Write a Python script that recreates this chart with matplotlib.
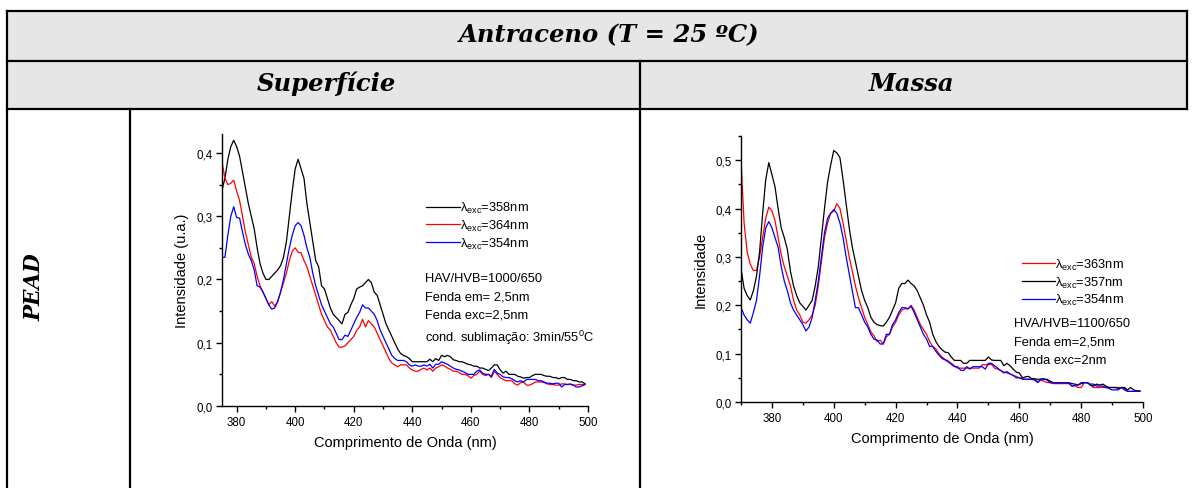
import numpy as np
import matplotlib
matplotlib.use("Agg")
import matplotlib.pyplot as plt
from matplotlib.lines import Line2D
from matplotlib.patches import Rectangle
from matplotlib.ticker import MultipleLocator, FuncFormatter

plt.rcParams["font.family"] = ["Liberation Sans", "DejaVu Sans"]
plt.rcParams["mathtext.fontset"] = "custom"
plt.rcParams["mathtext.rm"] = "Liberation Sans"
plt.rcParams["mathtext.it"] = "Liberation Sans:italic"

# -----------------------------
# Data: Superficie (left panel), 375-499 nm, 1 nm step
# -----------------------------
wl_sup = np.arange(375, 500)

sup_358 = [
    0.341, 0.36, 0.39, 0.41, 0.42, 0.41, 0.395, 0.37, 0.345, 0.32,
    0.30, 0.28, 0.25, 0.225, 0.21, 0.20, 0.20, 0.205, 0.21, 0.215,
    0.222, 0.235, 0.26, 0.30, 0.34, 0.375, 0.39, 0.375, 0.36, 0.32,
    0.29, 0.26, 0.23, 0.22, 0.19, 0.185, 0.17, 0.155, 0.145, 0.14,
    0.135, 0.13, 0.145, 0.148, 0.16, 0.17, 0.185, 0.188, 0.19, 0.195,
    0.20, 0.195, 0.18, 0.175, 0.16, 0.145, 0.13, 0.12, 0.11, 0.10,
    0.09, 0.083, 0.08, 0.078, 0.075, 0.07, 0.07, 0.07, 0.07, 0.07,
    0.07, 0.074, 0.07, 0.075, 0.072, 0.08, 0.078, 0.08, 0.078, 0.073,
    0.072, 0.07, 0.07, 0.068, 0.066, 0.065, 0.063, 0.063, 0.06, 0.06,
    0.058, 0.056, 0.06, 0.065, 0.065, 0.057, 0.052, 0.055, 0.05, 0.05,
    0.05, 0.047, 0.046, 0.044, 0.045, 0.045, 0.048, 0.05, 0.05, 0.05,
    0.048, 0.047, 0.047, 0.045, 0.045, 0.043, 0.045, 0.045, 0.042, 0.042,
    0.04, 0.04, 0.038, 0.038, 0.035,
]
sup_364 = [
    0.386, 0.36, 0.35, 0.352, 0.357, 0.34, 0.325, 0.30, 0.275, 0.255,
    0.235, 0.225, 0.205, 0.19, 0.18, 0.17, 0.16, 0.165, 0.158, 0.165,
    0.18, 0.195, 0.21, 0.23, 0.245, 0.25, 0.243, 0.242, 0.23, 0.22,
    0.205, 0.19, 0.175, 0.16, 0.145, 0.135, 0.125, 0.12, 0.11, 0.10,
    0.093, 0.093, 0.095, 0.10, 0.105, 0.11, 0.12, 0.125, 0.137, 0.125,
    0.135, 0.13, 0.125, 0.115, 0.105, 0.095, 0.085, 0.075, 0.068, 0.065,
    0.062, 0.065, 0.065, 0.065, 0.06, 0.057, 0.055, 0.055, 0.058, 0.06,
    0.057, 0.06, 0.055, 0.06, 0.062, 0.065, 0.063, 0.06, 0.058, 0.055,
    0.055, 0.053, 0.05, 0.05, 0.048, 0.044, 0.048, 0.05, 0.055, 0.05,
    0.048, 0.05, 0.045, 0.055, 0.05, 0.045, 0.042, 0.04, 0.04, 0.04,
    0.035, 0.033, 0.037, 0.038, 0.033, 0.033, 0.035, 0.038, 0.038, 0.038,
    0.037, 0.035, 0.034, 0.034, 0.033, 0.033, 0.035, 0.035, 0.034, 0.034,
    0.033, 0.033, 0.034, 0.034, 0.034,
]
sup_354 = [
    0.235, 0.235, 0.27, 0.30, 0.315, 0.298, 0.297, 0.275, 0.255, 0.24,
    0.23, 0.215, 0.19, 0.188, 0.18, 0.17, 0.16, 0.153, 0.155, 0.165,
    0.18, 0.20, 0.225, 0.25, 0.27, 0.285, 0.29, 0.285, 0.27, 0.25,
    0.235, 0.21, 0.19, 0.175, 0.16, 0.15, 0.14, 0.13, 0.125, 0.115,
    0.105, 0.105, 0.112, 0.11, 0.12, 0.13, 0.14, 0.148, 0.16, 0.155,
    0.155, 0.15, 0.145, 0.135, 0.12, 0.11, 0.10, 0.09, 0.08, 0.075,
    0.072, 0.072, 0.072, 0.07, 0.065, 0.063, 0.065, 0.063, 0.063, 0.065,
    0.063, 0.066, 0.06, 0.066, 0.066, 0.07, 0.068, 0.066, 0.063, 0.06,
    0.058, 0.057, 0.055, 0.053, 0.05, 0.05, 0.05, 0.055, 0.057, 0.052,
    0.05, 0.05, 0.047, 0.058, 0.052, 0.05, 0.046, 0.045, 0.045, 0.043,
    0.04, 0.038, 0.04, 0.038, 0.042, 0.042, 0.042, 0.042, 0.04, 0.04,
    0.038, 0.036, 0.036, 0.035, 0.036, 0.036, 0.03, 0.034, 0.034, 0.035,
    0.033, 0.03, 0.03, 0.032, 0.034,
]

# -----------------------------
# Data: Massa (right panel), 370-499 nm, 1 nm step
# -----------------------------
wl_mas = np.arange(370, 500)

mas_363 = [
    0.50, 0.37, 0.31, 0.285, 0.272, 0.272, 0.30, 0.34, 0.38, 0.403,
    0.395, 0.375, 0.34, 0.305, 0.28, 0.26, 0.24, 0.21, 0.19, 0.18,
    0.165, 0.163, 0.17, 0.18, 0.20, 0.24, 0.29, 0.34, 0.37, 0.39,
    0.395, 0.41, 0.40, 0.37, 0.335, 0.30, 0.27, 0.24, 0.215, 0.195,
    0.175, 0.16, 0.145, 0.137, 0.125, 0.128, 0.12, 0.135, 0.14, 0.155,
    0.165, 0.18, 0.19, 0.193, 0.192, 0.20, 0.19, 0.175, 0.16, 0.15,
    0.14, 0.125, 0.115, 0.11, 0.10, 0.093, 0.088, 0.085, 0.08, 0.075,
    0.07, 0.07, 0.07, 0.07, 0.07, 0.07, 0.07, 0.07, 0.077, 0.077,
    0.077, 0.078, 0.07, 0.068, 0.065, 0.062, 0.06, 0.058, 0.055, 0.053,
    0.05, 0.047, 0.047, 0.047, 0.047, 0.047, 0.042, 0.045, 0.043, 0.04,
    0.04, 0.038, 0.038, 0.038, 0.038, 0.038, 0.038, 0.033, 0.033, 0.03,
    0.03, 0.04, 0.04, 0.035, 0.03, 0.03, 0.03, 0.03, 0.03, 0.03,
    0.03, 0.03, 0.03, 0.03, 0.028, 0.022, 0.022, 0.022, 0.022, 0.022,
]
mas_357 = [
    0.276, 0.235, 0.22, 0.211, 0.23, 0.26, 0.31, 0.39, 0.46, 0.495,
    0.47, 0.445, 0.40, 0.36, 0.34, 0.315, 0.27, 0.24, 0.22, 0.205,
    0.198, 0.19, 0.20, 0.21, 0.24, 0.28, 0.34, 0.40, 0.455, 0.49,
    0.52, 0.515, 0.505, 0.46, 0.41, 0.36, 0.32, 0.29, 0.26, 0.23,
    0.21, 0.195, 0.175, 0.165, 0.16, 0.158, 0.157, 0.165, 0.175, 0.19,
    0.205, 0.235, 0.245, 0.245, 0.252, 0.245, 0.24, 0.23, 0.215, 0.20,
    0.18, 0.165, 0.14, 0.125, 0.115, 0.108, 0.103, 0.102, 0.093, 0.086,
    0.086, 0.086, 0.08, 0.08, 0.086, 0.086, 0.086, 0.086, 0.086, 0.086,
    0.093, 0.087, 0.086, 0.086, 0.086, 0.075, 0.08, 0.075, 0.068, 0.062,
    0.06, 0.05, 0.052, 0.053, 0.048, 0.048, 0.047, 0.047, 0.047, 0.047,
    0.043, 0.04, 0.04, 0.04, 0.04, 0.04, 0.04, 0.038, 0.037, 0.035,
    0.038, 0.04, 0.04, 0.035, 0.033, 0.037, 0.035, 0.037, 0.033, 0.03,
    0.03, 0.03, 0.028, 0.03, 0.03, 0.025, 0.03, 0.025, 0.023, 0.023,
]
mas_354 = [
    0.195, 0.18, 0.17, 0.163, 0.185, 0.21, 0.26, 0.32, 0.36, 0.373,
    0.36, 0.34, 0.32, 0.28, 0.25, 0.23, 0.205, 0.19, 0.18, 0.17,
    0.16, 0.147, 0.155, 0.175, 0.21, 0.25, 0.30, 0.35, 0.38, 0.39,
    0.398, 0.39, 0.37, 0.34, 0.30, 0.265, 0.23, 0.195, 0.195, 0.18,
    0.165, 0.155, 0.14, 0.13, 0.128, 0.12, 0.12, 0.14, 0.14, 0.16,
    0.17, 0.185, 0.195, 0.195, 0.193, 0.198, 0.185, 0.17, 0.155, 0.14,
    0.13, 0.115, 0.115, 0.105, 0.097, 0.09, 0.087, 0.083, 0.078, 0.073,
    0.073, 0.066, 0.065, 0.073, 0.068, 0.073, 0.073, 0.073, 0.073, 0.068,
    0.08, 0.08, 0.075, 0.07, 0.065, 0.06, 0.063, 0.058, 0.055, 0.05,
    0.05, 0.048, 0.047, 0.047, 0.047, 0.045, 0.04, 0.048, 0.048, 0.045,
    0.04, 0.04, 0.04, 0.04, 0.04, 0.04, 0.04, 0.033, 0.035, 0.035,
    0.04, 0.04, 0.04, 0.037, 0.037, 0.033, 0.033, 0.033, 0.03, 0.028,
    0.025, 0.025, 0.025, 0.03, 0.025, 0.022, 0.022, 0.022, 0.022, 0.022,
]

W, H = 1192, 489
fig = plt.figure(figsize=(W / 100, H / 100), dpi=100)


def fx(px):
    return px / W


def fy(py):
    return 1 - py / H


# -----------------------------
# Table frame
# -----------------------------
gray = "#e6e6e6"
fig.add_artist(Rectangle((fx(7), fy(110)), fx(1187) - fx(7), fy(12) - fy(110),
                         transform=fig.transFigure, facecolor=gray,
                         edgecolor="none", zorder=0))

lw = 1.6
segments = [
    ((7, 1187), (12, 12)),
    ((7, 1187), (62, 62)),
    ((7, 1187), (110, 110)),
    ((7, 7), (12, 489)),
    ((1187, 1187), (12, 110)),
    ((640, 640), (62, 489)),
    ((130, 130), (110, 489)),
]
for xs, ys in segments:
    fig.add_artist(Line2D([fx(x) for x in xs], [fy(y) for y in ys],
                          transform=fig.transFigure, color="black", lw=lw))

head_font = dict(family="DejaVu Serif", weight="bold", style="italic",
                 color="black", ha="center", va="center")
fig.text(fx(609), fy(35), "Antraceno (T = 25 ºC)", fontsize=17.5, **head_font)
fig.text(fx(326), fy(84), "Superfície", fontsize=17.5, **head_font)
fig.text(fx(912), fy(84), "Massa", fontsize=17.5, **head_font)
fig.text(fx(34), fy(287), "PEAD", fontsize=15.5, rotation=90, **head_font)

comma = FuncFormatter(lambda v, p: f"{v:.1f}".replace(".", ","))


def style_axes(ax):
    for s in ["top", "right"]:
        ax.spines[s].set_visible(False)
    for s in ["left", "bottom"]:
        ax.spines[s].set_linewidth(1.0)
    ax.tick_params(which="major", direction="out", length=4, width=1,
                   labelsize=8.3, pad=3)
    ax.tick_params(which="minor", direction="out", length=2.5, width=1)
    ax.xaxis.set_major_locator(MultipleLocator(20))
    ax.xaxis.set_minor_locator(MultipleLocator(10))
    ax.yaxis.set_major_locator(MultipleLocator(0.1))
    ax.yaxis.set_minor_locator(MultipleLocator(0.05))
    ax.yaxis.set_major_formatter(comma)
    ax.set_xlabel("Comprimento de Onda (nm)", fontsize=10.5, labelpad=5)


lab = "λ$_{\\rm exc}$="

# =====================================================
# Left panel: Superficie
# =====================================================
ax1 = fig.add_axes([fx(222), fy(407), (588 - 222) / W, (407 - 135) / H])
ax1.plot(wl_sup, sup_358, color="black", lw=0.9, label=lab + "358nm")
ax1.plot(wl_sup, sup_364, color="red", lw=0.9, label=lab + "364nm")
ax1.plot(wl_sup, sup_354, color="blue", lw=0.9, label=lab + "354nm")
ax1.set_xlim(375, 500)
ax1.set_ylim(0, 0.43)
style_axes(ax1)
ax1.set_ylabel("Intensidade (u.a.)", fontsize=10.5, labelpad=5)
ax1.legend(loc="upper left", bbox_to_anchor=(0.54, 0.78), frameon=False,
           fontsize=9.3, handlelength=2.6, handletextpad=0.0,
           borderpad=0, labelspacing=0.2)
notes1 = ["HAV/HVB=1000/650", "Fenda em= 2,5nm", "Fenda exc=2,5nm",
          "cond. sublimação: 3min/55$^{0}$C"]
for t, yy in zip(notes1, [279, 298, 316, 338]):
    ax1.text(0.555, (407 - yy) / 272, t, transform=ax1.transAxes,
             fontsize=9.3, va="center", ha="left")

# =====================================================
# Right panel: Massa
# =====================================================
ax2 = fig.add_axes([fx(741), fy(403), (1143 - 741) / W, (403 - 137) / H])
ax2.plot(wl_mas, mas_363, color="red", lw=0.9, label=lab + "363nm")
ax2.plot(wl_mas, mas_357, color="black", lw=0.9, label=lab + "357nm")
ax2.plot(wl_mas, mas_354, color="blue", lw=0.9, label=lab + "354nm")
ax2.set_xlim(370, 500)
ax2.set_ylim(0, 0.55)
style_axes(ax2)
ax2.set_ylabel("Intensidade", fontsize=10.5, labelpad=5)
ax2.legend(loc="upper left", bbox_to_anchor=(0.682, 0.57), frameon=False,
           fontsize=9.3, handlelength=2.6, handletextpad=0.0,
           borderpad=0, labelspacing=0.2)
notes2 = ["HVA/HVB=1100/650", "Fenda em=2,5nm", "Fenda exc=2nm"]
for t, yy in zip(notes2, [324, 343, 361]):
    ax2.text(0.679, (403 - yy) / 266, t, transform=ax2.transAxes,
             fontsize=9.3, va="center", ha="left")

fig.savefig("out.png", dpi=100)
